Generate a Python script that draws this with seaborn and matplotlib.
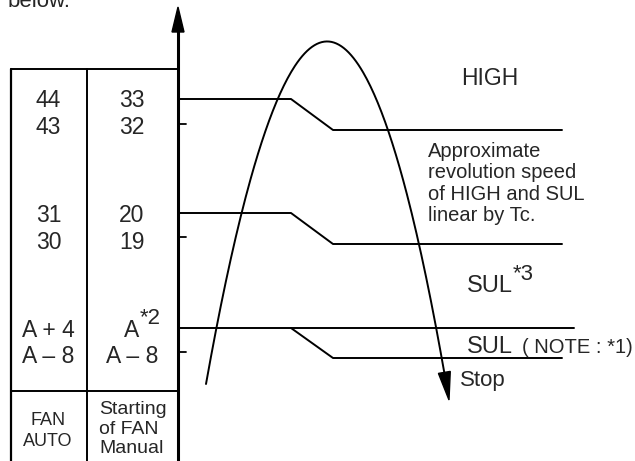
import matplotlib.pyplot as plt
import seaborn as sns
import pandas as pd
import numpy as np
from matplotlib.patches import Polygon

sns.set_style('white')
plt.rcParams['font.family'] = ['Liberation Sans', 'DejaVu Sans']

# levels on the vertical axis (diagram coords, y grows downward)
level_on = [99, 213, 328]       # upper value -> line drawn
level_off = [130, 244, 358]     # lower value after the slope
tick_y = [124, 237, 352]
fan_auto = [('44', '43'), ('31', '30'), ('A + 4', 'A – 8')]
fan_manual = [('33', '32'), ('20', '19'), ('A', 'A – 8')]
text_base = [(107, 134), (222, 249), (337, 363)]

axis_x = 178
bend_x = [291, 333]
end_x = 562
low_line_end = 574

# curve: start, peak control, end
curve_pts = [(206, 384), (329.5, -309), (449, 400)]

fig = plt.figure(figsize=(6.35, 4.61), dpi=100)
ax = fig.add_axes([0, 0, 1, 1])

# step lines
rows = []
for i, (on, off) in enumerate(zip(level_on, level_off)):
    for x, y in [(axis_x, on), (bend_x[0], on), (bend_x[1], off), (end_x, off)]:
        rows.append({'seg': i, 'x': x, 'y': y})
rows.append({'seg': 9, 'x': bend_x[0], 'y': level_on[2]})
rows.append({'seg': 9, 'x': low_line_end, 'y': level_on[2]})
df = pd.DataFrame(rows)
sns.lineplot(data=df, x='x', y='y', units='seg', estimator=None, sort=False,
             color='black', lw=1.4, ax=ax, legend=False)
ax.set_xlim(0, 635)
ax.set_ylim(461, 0)
ax.axis('off')

# ticks
for t in tick_y:
    ax.plot([axis_x, axis_x + 8], [t, t], color='black', lw=1.3)

# vertical axis with arrow
ax.plot([axis_x, axis_x], [461, 30], color='black', lw=2.2)
ax.add_patch(Polygon([(axis_x, 7), (axis_x - 6, 32), (axis_x + 6, 32)],
                     closed=True, color='black'))

# table
ax.plot([11, axis_x], [69, 69], color='black', lw=1.4)
ax.plot([11, 11], [69, 461], color='black', lw=1.6)
ax.plot([87, 87], [69, 461], color='black', lw=1.4)
ax.plot([11, axis_x], [391, 391], color='black', lw=1.4)

# curve (quadratic bezier)
p0, p1, p2 = [np.array(p, dtype=float) for p in curve_pts]
t = np.linspace(0, 1, 200)[:, None]
pts = (1 - t) ** 2 * p0 + 2 * (1 - t) * t * p1 + t ** 2 * p2
keep = pts[:, 1] <= 375
keep[:100] = True
ax.plot(pts[keep, 0], pts[keep, 1], color='black', lw=1.4)
d = p2 - p1
d = d / np.linalg.norm(d)
nrm = np.array([-d[1], d[0]])
base = p2 - d * 28
ax.add_patch(Polygon([p2, base + nrm * 6, base - nrm * 6], closed=True, color='black'))

# table texts
fs = 16.5
for (a1, a2), (m1, m2), (b1, b2) in zip(fan_auto, fan_manual, text_base):
    ax.text(48.5, b1, a1, ha='center', va='baseline', fontsize=fs)
    ax.text(48.5, b2, a2, ha='center', va='baseline', fontsize=fs)
    ax.text(131.7, b1, m1, ha='center', va='baseline', fontsize=fs)
    ax.text(131.7, b2, m2, ha='center', va='baseline', fontsize=fs)
ax.text(140, 324, '*2', ha='left', va='baseline', fontsize=16)

ax.text(48, 425, 'FAN', ha='center', va='baseline', fontsize=13)
ax.text(48, 446, 'AUTO', ha='center', va='baseline', fontsize=13)
ax.text(99, 414, 'Starting', ha='left', va='baseline', fontsize=14)
ax.text(99, 434, 'of FAN', ha='left', va='baseline', fontsize=14)
ax.text(99, 453, 'Manual', ha='left', va='baseline', fontsize=14)

# right texts
ax.text(8, 7, 'below.', ha='left', va='baseline', fontsize=16)
ax.text(490, 85, 'HIGH', ha='center', va='baseline', fontsize=16.5)
note = ['Approximate', 'revolution speed', 'of HIGH and SUL', 'linear by Tc.']
for i, line in enumerate(note):
    ax.text(428, 157 + 21.3 * i, line, ha='left', va='baseline', fontsize=14.5)
ax.text(467, 292, 'SUL', ha='left', va='baseline', fontsize=17)
ax.text(513, 280, '*3', ha='left', va='baseline', fontsize=16)
ax.text(467, 353, 'SUL', ha='left', va='baseline', fontsize=17)
ax.text(522, 353, '( NOTE : *1)', ha='left', va='baseline', fontsize=14.5)
ax.text(460, 386, 'Stop', ha='left', va='baseline', fontsize=16)

fig.savefig('out.png', dpi=100)
